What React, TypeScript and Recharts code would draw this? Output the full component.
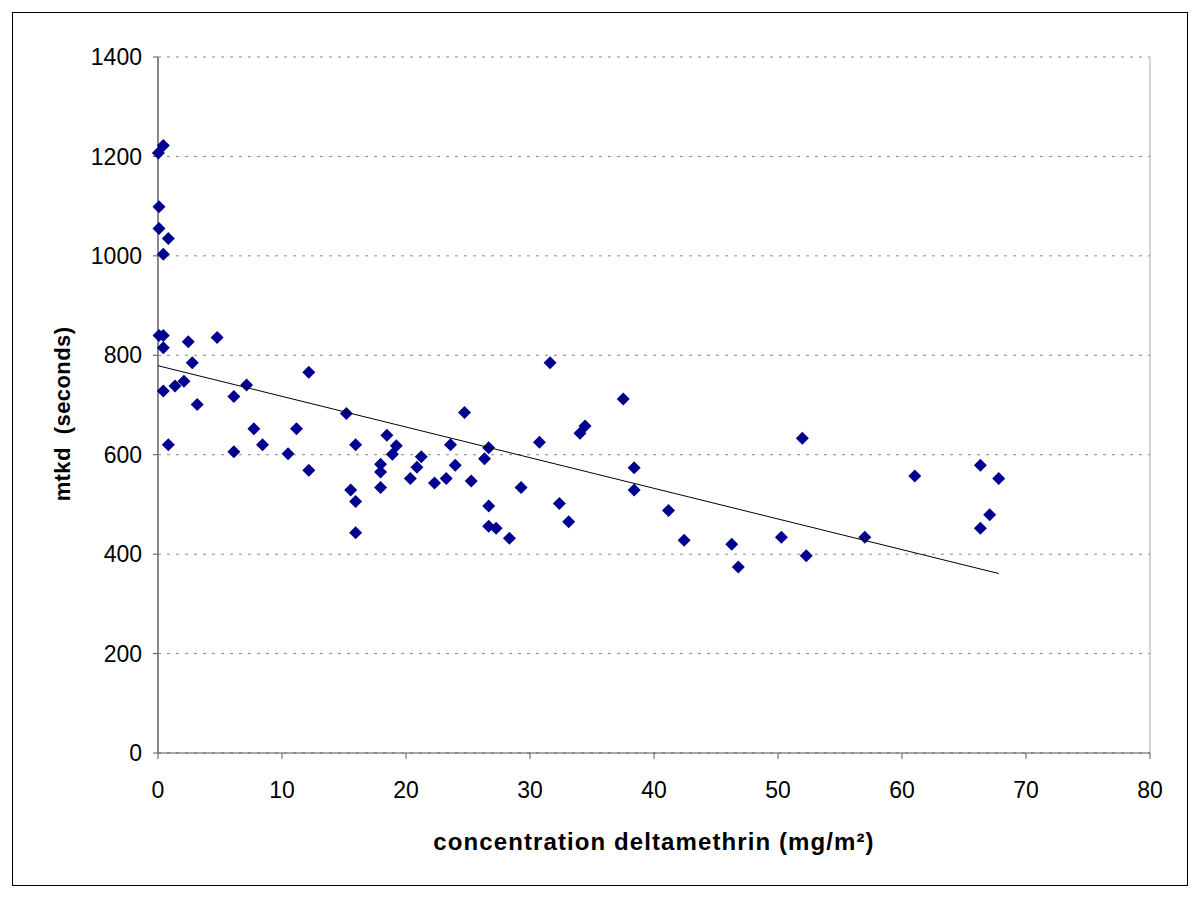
import React from 'react';
import { ScatterChart, Scatter, XAxis, YAxis, CartesianGrid, ReferenceLine } from 'recharts';

// values
const concentration = [
  0.03, 0.43, 0.08, 0.08, 0.83, 0.43, 0.08, 0.43, 0.43, 0.43, 0.83, 1.37, 2.09, 2.44, 2.76, 3.16,
  4.77, 6.12, 6.12, 7.14, 7.73, 8.43, 10.49, 11.17, 12.16, 12.16, 15.19, 15.54, 15.94, 15.94, 15.94,
  17.95, 17.95, 17.95, 18.46, 18.9, 19.22, 20.35, 20.88, 21.23, 22.3, 23.24, 23.59, 23.97, 24.72,
  25.26, 26.33, 26.67, 26.67, 26.67, 27.27, 28.34, 29.28, 30.76, 31.62, 32.37, 33.12, 34.03, 34.44,
  37.52, 38.4, 38.4, 41.17, 42.43, 46.27, 46.8, 50.27, 51.96, 52.28, 57.0, 61.03, 66.32, 66.32,
  67.07, 67.8,
];
const mtkd = [
  1207, 1222, 1099, 1055, 1035, 1003, 840, 840, 815, 728, 620, 738, 748, 827, 785, 701,
  836, 717, 606, 740, 652, 620, 602, 652, 766, 569, 683, 529, 506, 443, 620,
  581, 565, 534, 639, 601, 618, 552, 575, 596, 543, 552, 620, 579, 685,
  547, 592, 614, 497, 456, 452, 432, 534, 625, 785, 502, 465, 643, 658,
  712, 574, 529, 488, 428, 420, 374, 434, 633, 397, 434, 557, 579, 452,
  479, 552,
];
const trendX = [0, 67.8];
const trendY = [779, 361];
const xTicks = [0, 10, 20, 30, 40, 50, 60, 70, 80];
const yTicks = [0, 200, 400, 600, 800, 1000, 1200, 1400];

const points = concentration.map((x, i) => ({ x, y: mtkd[i] }));
const trend = trendX.map((x, i) => ({ x, y: trendY[i] }));

const Diamond = (props: any) => {
  const { cx, cy } = props;
  const r = 6.5;
  return (
    <polygon
      points={`${cx},${cy - r} ${cx + r},${cy} ${cx},${cy + r} ${cx - r},${cy}`}
      fill="#000090"
    />
  );
};

const font = '"Liberation Sans", Arial, sans-serif';

export default function App() {
  return (
    <div style={{ position: 'absolute', left: 0, top: 0, width: 1200, height: 897, background: '#fff' }}>
      <div
        style={{
          position: 'absolute',
          left: 12,
          top: 12,
          width: 1176,
          height: 874,
          border: '1px solid #000',
          boxSizing: 'border-box',
        }}
      />
      <ScatterChart
        width={1200}
        height={897}
        margin={{ top: 57, right: 50, bottom: 104, left: 98 }}
        style={{ position: 'absolute', left: 0, top: 0, fontFamily: font }}
      >
        <CartesianGrid vertical={false} stroke="#888" strokeDasharray="3 6" />
        <ReferenceLine x={80} stroke="#aaa" />
        <XAxis
          type="number"
          dataKey="x"
          domain={[0, 80]}
          ticks={xTicks}
          height={40}
          tickSize={6}
          tickMargin={23}
          axisLine={{ stroke: '#555' }}
          tickLine={{ stroke: '#555' }}
          tick={{ fill: '#000', fontSize: 23 }}
          label={{
            content: (p: any) => {
              const { x, y, width } = p.viewBox;
              return (
                <text
                  x={x + width / 2}
                  y={y + 97}
                  textAnchor="middle"
                  fontSize={24}
                  fontWeight="bold"
                  letterSpacing={1.1}
                  fill="#000"
                >
                  concentration deltamethrin (mg/m²)
                </text>
              );
            },
          }}
        />
        <YAxis
          type="number"
          dataKey="y"
          domain={[0, 1400]}
          ticks={yTicks}
          width={60}
          tickSize={5}
          tickMargin={11}
          axisLine={{ stroke: '#888', strokeWidth: 2 }}
          tickLine={{ stroke: '#555' }}
          tick={{ fill: '#000', fontSize: 23 }}
          label={{
            content: (p: any) => {
              const { x, y, height } = p.viewBox;
              const lx = x - 36;
              const ly = y + height / 2 + 9;
              return (
                <text
                  x={lx}
                  y={ly}
                  transform={`rotate(-90, ${lx}, ${ly})`}
                  textAnchor="middle"
                  dominantBaseline="central"
                  fontSize={22}
                  fontWeight="bold"
                  letterSpacing={0.4}
                  fill="#000"
                  style={{ whiteSpace: 'pre' }}
                >
                  {'mtkd  (seconds)'}
                </text>
              );
            },
          }}
        />
        <Scatter data={points} shape={Diamond} isAnimationActive={false} />
        <Scatter
          data={trend}
          line={{ stroke: '#000', strokeWidth: 1 }}
          shape={() => <g />}
          isAnimationActive={false}
        />
      </ScatterChart>
    </div>
  );
}
